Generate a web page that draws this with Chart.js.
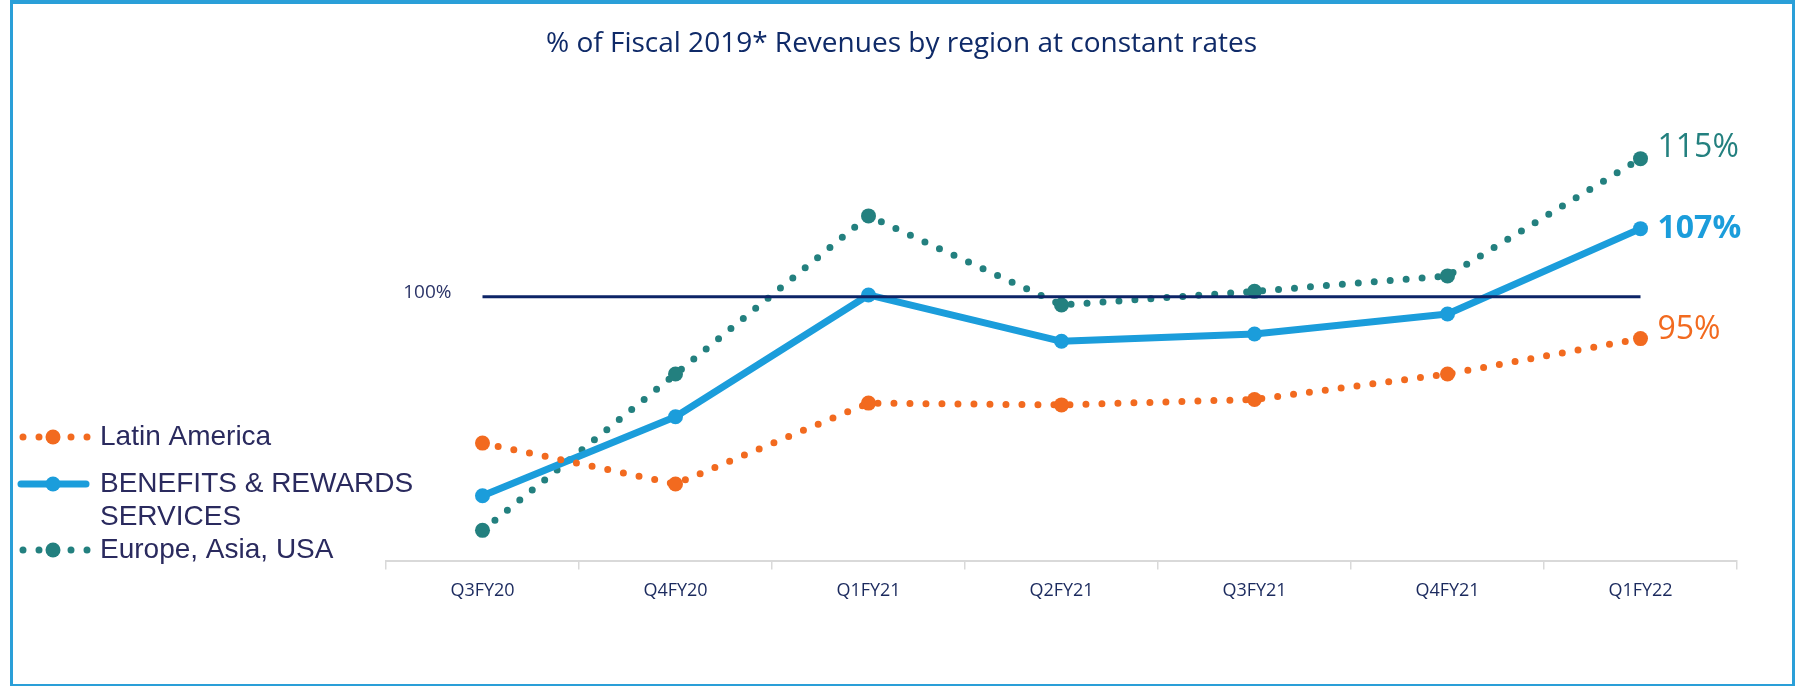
<!DOCTYPE html>
<html>
<head>
<meta charset="utf-8">
<script src="https://cdn.jsdelivr.net/npm/chart.js@4"></script>
<style>
  html, body { margin: 0; padding: 0; background: #fff; }
  #wrap { position: relative; width: 1803px; height: 686px; }
  #frame {
    position: absolute; left: 10px; top: 0; width: 1779px; height: 680px;
    border: 3px solid #2a9fd8; border-top-width: 4px;
  }
  #chart { position: absolute; left: 0; top: 0; }
</style>
</head>
<body>
<div id="wrap">
  <div id="frame"></div>
  <canvas id="chart" width="1803" height="686"></canvas>
</div>
<script>
(function () {
  "use strict";

  var QUARTERS = ["Q3FY20", "Q4FY20", "Q1FY21", "Q2FY21", "Q3FY21", "Q4FY21", "Q1FY22"];
  var LATIN_AMERICA = [83.9, 79.4, 88.3, 88.1, 88.7, 91.5, 95.4];
  var BENEFITS = [78.1, 86.8, 100.2, 95.1, 95.9, 98.1, 107.5];
  var EUROPE_ASIA_USA = [74.3, 91.5, 108.9, 99.1, 100.6, 102.3, 115.2];
  var BASELINE = [100, 100, 100, 100, 100, 100, 100];
  var SERIES_NAMES = ["Latin America", "BENEFITS & REWARDS\nSERVICES", "Europe, Asia, USA"];
  var END_LABELS = ["95%", "107%", "115%"];
  var BASELINE_LABEL = "100%";
  var TITLE = "% of Fiscal 2019* Revenues by region at constant rates";

  var ORANGE = "#f26a1f";
  var BLUE = "#1b9ddb";
  var TEAL = "#23807f";
  var NAVY = "#0d2467";
  var TEXT = "#1b2a5e";

  function dottedSeries(label, data, color) {
    return {
      label: label,
      data: data,
      borderColor: color,
      backgroundColor: color,
      borderWidth: 7,
      borderDash: [0, 16],
      borderCapStyle: "round",
      pointRadius: 7.5,
      pointBorderWidth: 0,
      pointBackgroundColor: color,
      tension: 0,
    };
  }

  // invisible side axis that only reserves room (keeps the title centred on the page)
  function spacerAxis(position, width) {
    return {
      position: position,
      display: true,
      ticks: { display: false },
      grid: { display: false },
      border: { display: false },
      afterFit: function (scale) {
        scale.width = width;
      },
    };
  }

  // legend on the left, drawn from the dataset styles
  var sideLegend = {
    id: "sideLegend",
    afterDraw: function (chart) {
      var ctx = chart.ctx;
      var rows = [
        { ds: 1, y: 437 },
        { ds: 2, y: 484 },
        { ds: 3, y: 550 },
      ];
      ctx.save();
      rows.forEach(function (row) {
        var ds = chart.data.datasets[row.ds];
        ctx.strokeStyle = ds.borderColor;
        ctx.lineWidth = ds.borderWidth;
        ctx.lineCap = "round";
        ctx.setLineDash(ds.borderDash || []);
        ctx.beginPath();
        if (ds.borderDash) {
          ctx.moveTo(23, row.y);
          ctx.lineTo(88, row.y);
        } else {
          ctx.moveTo(21, row.y);
          ctx.lineTo(86, row.y);
        }
        ctx.stroke();
        ctx.setLineDash([]);
        ctx.fillStyle = ds.borderColor;
        ctx.beginPath();
        ctx.arc(53, row.y, 7.5, 0, Math.PI * 2);
        ctx.fill();

        ctx.fillStyle = "#2a2a5e";
        ctx.font = "28px 'Liberation Sans', Arial, sans-serif";
        ctx.textBaseline = "middle";
        ctx.textAlign = "left";
        SERIES_NAMES[row.ds - 1].split("\n").forEach(function (line, i) {
          ctx.fillText(line, 100, row.y + i * 33);
        });
      });
      ctx.restore();
    },
  };

  // value labels at the last quarter and the 100% tag
  var endLabels = {
    id: "endLabels",
    afterDatasetsDraw: function (chart) {
      var ctx = chart.ctx;
      var shifts = [-9, 0, -11];
      ctx.save();
      ctx.textBaseline = "middle";
      ctx.textAlign = "left";
      for (var i = 1; i <= 3; i++) {
        var meta = chart.getDatasetMeta(i);
        var pt = meta.data[meta.data.length - 1];
        var ds = chart.data.datasets[i];
        ctx.fillStyle = ds.borderColor;
        ctx.font = (i === 2 ? "bold " : "") + "32px 'Open Sans', sans-serif";
        ctx.fillText(END_LABELS[i - 1], pt.x + 17, pt.y + shifts[i - 1]);
      }
      var first = chart.getDatasetMeta(0).data[0];
      ctx.fillStyle = "#2b3468";
      ctx.font = "19px 'Open Sans', sans-serif";
      ctx.textAlign = "right";
      ctx.fillText(BASELINE_LABEL, first.x - 31, first.y - 4);
      ctx.restore();
    },
  };

  new Chart(document.getElementById("chart"), {
    type: "line",
    data: {
      labels: QUARTERS,
      datasets: [
        {
          label: BASELINE_LABEL,
          data: BASELINE,
          borderColor: NAVY,
          borderWidth: 3,
          pointRadius: 0,
          tension: 0,
        },
        dottedSeries(SERIES_NAMES[0], LATIN_AMERICA, ORANGE),
        {
          label: SERIES_NAMES[1],
          data: BENEFITS,
          borderColor: BLUE,
          backgroundColor: BLUE,
          borderWidth: 7,
          borderCapStyle: "round",
          borderJoinStyle: "round",
          pointRadius: 7.5,
          pointBorderWidth: 0,
          pointBackgroundColor: BLUE,
          tension: 0,
        },
        dottedSeries(SERIES_NAMES[2], EUROPE_ASIA_USA, TEAL),
      ],
    },
    options: {
      responsive: false,
      animation: false,
      layout: { padding: { left: 0, right: 0, top: 0, bottom: 73 } },
      plugins: {
        legend: { display: false },
        tooltip: { enabled: false },
        title: {
          display: true,
          text: TITLE,
          color: "#0f2a68",
          font: { family: "'Open Sans', sans-serif", size: 28, weight: "normal" },
          padding: { top: 27, bottom: 9 },
        },
      },
      scales: {
        x: {
          offset: true,
          grid: {
            offset: true,
            drawOnChartArea: false,
            drawTicks: true,
            tickLength: 8,
            color: "#d9d9d9",
            lineWidth: 1.5,
          },
          border: { display: true, color: "#d9d9d9", width: 2 },
          ticks: {
            color: TEXT,
            padding: 11,
            font: { family: "'Open Sans', sans-serif", size: 18 },
          },
        },
        y: Object.assign(spacerAxis("left", 386), { min: 70.88, max: 125 }),
        yRight: spacerAxis("right", 66),
      },
    },
    plugins: [sideLegend, endLabels],
  });
})();
</script>
</body>
</html>
